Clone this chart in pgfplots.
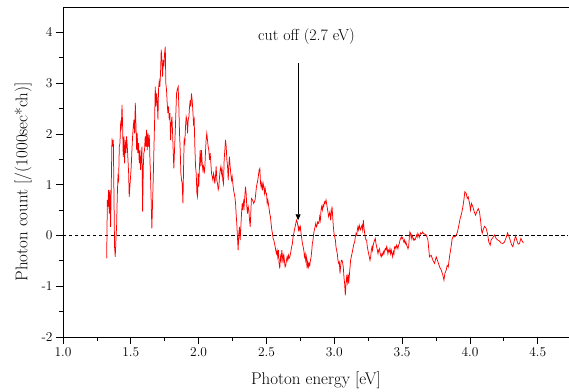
\documentclass[border=0pt]{standalone}
\usepackage{pgfplots}
\pgfplotsset{compat=1.18}
\usetikzlibrary{arrows.meta}
\begin{document}
\begin{tikzpicture}
\begin{axis}[
  at={(0,0)}, anchor=south west,
  scale only axis, width=506bp, height=330bp,
  xmin=1, xmax=4.73, ymin=-2, ymax=4.5,
  axis x line*=box, axis y line*=left,
  axis line style={-, line width=0.8pt, black},
  xtick={1,1.5,2,2.5,3,3.5,4,4.5},
  xticklabels={1.0,1.5,2.0,2.5,3.0,3.5,4.0,4.5},
  ytick={-2,-1,0,1,2,3,4},
  yticklabels={-2,-1,0,1,2,3,4},
  minor x tick num=1, minor y tick num=1,
  xtick pos=left, ytick pos=left,
  tick align=outside,
  major tick length=7bp, minor tick length=4bp,
  every tick/.style={black, line width=0.8pt},
  tick label style={font=\fontsize{13.5}{16}\selectfont, text=black},
  xlabel={Photon energy [eV]},
  ylabel={Photon count [/(1000sec*ch)]},
  label style={font=\fontsize{17}{20}\selectfont, text=black},
  xlabel style={at={(axis description cs:0.5,-0.145)}, anchor=base},
  ylabel style={at={(axis description cs:-0.079,0.47)}, anchor=center},
]
\addplot[black, line width=0.8pt, dash pattern=on 3.5bp off 2.5bp] coordinates {(1,0) (4.72,0)};
\addplot[red, line width=0.75pt] table {
x y
1.322 -0.45
1.327 0.70
1.331 0.57
1.336 0.90
1.341 0.43
1.346 0.90
1.351 0.17
1.356 1.02
1.361 1.91
1.366 1.75
1.371 1.88
1.376 0.70
1.380 -0.22
1.385 -0.42
1.390 -0.09
1.395 0.17
1.400 0.76
1.405 1.16
1.410 1.09
1.415 1.75
1.420 1.82
1.425 2.21
1.430 2.14
1.435 2.57
1.439 2.21
1.444 1.55
1.449 1.95
1.454 1.42
1.459 1.88
1.464 1.62
1.469 1.95
1.474 1.75
1.479 1.49
1.484 1.22
1.488 0.76
1.493 0.96
1.498 1.16
1.503 1.36
1.508 1.68
1.513 1.95
1.518 2.14
1.523 2.28
1.528 2.01
1.533 2.61
1.538 2.14
1.543 1.68
1.547 2.01
1.552 1.62
1.557 1.82
1.562 1.42
1.567 1.68
1.572 1.29
1.577 1.55
1.582 1.75
1.587 0.47
1.592 1.36
1.596 1.62
1.601 1.68
1.606 1.95
1.611 1.75
1.616 2.08
1.621 1.68
1.626 2.01
1.631 1.75
1.636 1.98
1.641 1.49
1.646 1.09
1.651 0.57
1.655 0.14
1.660 0.63
1.665 1.09
1.670 1.68
1.675 2.21
1.680 2.93
1.685 2.54
1.690 2.80
1.695 2.61
1.700 2.28
1.704 2.87
1.709 3.03
1.714 2.93
1.719 3.20
1.724 3.66
1.729 3.46
1.734 3.13
1.739 3.46
1.744 3.33
1.749 3.59
1.754 3.72
1.758 3.00
1.763 2.87
1.768 2.61
1.773 2.41
1.778 2.54
1.783 2.28
1.788 2.41
1.793 1.88
1.798 2.21
1.803 2.34
1.808 2.01
1.812 1.68
1.817 1.32
1.822 1.68
1.827 2.01
1.832 2.41
1.837 2.80
1.842 2.87
1.849 2.93
1.854 2.54
1.859 2.01
1.864 1.68
1.869 1.22
1.874 1.09
1.879 1.02
1.884 0.63
1.889 1.36
1.893 1.88
1.898 1.82
1.903 2.14
1.908 2.34
1.913 2.28
1.918 2.01
1.923 2.28
1.928 2.34
1.933 2.54
1.938 2.67
1.942 2.54
1.947 2.80
1.952 2.67
1.957 2.47
1.962 2.21
1.967 2.28
1.972 1.75
1.977 1.36
1.982 1.22
1.987 0.83
1.992 0.76
1.996 1.22
2.001 0.96
2.006 1.36
2.011 1.68
2.016 1.36
2.021 1.68
2.026 1.42
2.031 1.29
2.036 1.36
2.041 1.22
2.046 1.36
2.051 1.68
2.055 1.88
2.060 2.01
2.065 1.88
2.070 1.75
2.075 1.68
2.080 1.49
2.085 1.62
2.090 1.42
2.095 1.22
2.100 1.16
2.105 1.09
2.110 1.22
2.114 1.16
2.119 1.02
2.124 1.16
2.129 1.36
2.134 1.09
2.139 1.02
2.144 0.90
2.149 0.96
2.154 1.16
2.159 1.29
2.164 1.36
2.169 1.22
2.173 1.29
2.178 1.09
2.183 1.02
2.188 1.49
2.193 1.68
2.198 1.88
2.203 1.75
2.208 1.49
2.213 1.36
2.218 1.09
2.222 1.36
2.227 1.55
2.232 1.36
2.237 1.22
2.242 1.09
2.247 1.16
2.252 1.02
2.257 0.90
2.262 0.83
2.267 0.76
2.272 0.63
2.276 0.43
2.281 0.24
2.286 -0.03
2.291 -0.29
2.296 0.04
2.301 0.17
2.306 -0.09
2.311 0.17
2.316 0.43
2.321 0.63
2.326 0.50
2.330 0.66
2.335 0.57
2.340 0.76
2.345 0.96
2.350 0.83
2.355 0.57
2.360 0.43
2.365 0.57
2.370 0.50
2.375 0.30
2.380 0.17
2.389 0.73
2.397 0.70
2.406 0.63
2.416 0.70
2.426 0.96
2.436 1.09
2.446 1.29
2.451 1.32
2.456 1.03
2.460 0.96
2.465 1.03
2.470 0.89
2.475 1.03
2.480 0.96
2.485 0.83
2.490 0.93
2.495 0.83
2.500 0.83
2.505 0.63
2.510 0.70
2.514 0.63
2.519 0.53
2.524 0.43
2.529 0.37
2.534 0.24
2.539 0.11
2.544 0.04
2.549 -0.06
2.554 -0.09
2.559 -0.16
2.564 -0.22
2.568 -0.29
2.573 -0.36
2.578 -0.29
2.583 -0.42
2.588 -0.29
2.593 -0.55
2.598 -0.65
2.603 -0.42
2.608 -0.49
2.613 -0.29
2.618 -0.42
2.622 -0.55
2.627 -0.36
2.632 -0.49
2.637 -0.62
2.642 -0.59
2.647 -0.49
2.652 -0.42
2.657 -0.49
2.662 -0.39
2.667 -0.45
2.672 -0.42
2.677 -0.36
2.681 -0.29
2.686 -0.22
2.691 -0.16
2.696 -0.03
2.701 0.04
2.706 0.11
2.711 0.17
2.716 0.24
2.721 0.30
2.726 0.27
2.731 0.20
2.736 0.11
2.740 0.17
2.745 0.11
2.750 0.17
2.755 0.04
2.760 -0.06
2.765 -0.16
2.770 -0.22
2.775 -0.29
2.780 -0.42
2.785 -0.36
2.789 -0.49
2.794 -0.42
2.799 -0.65
2.804 -0.52
2.809 -0.62
2.814 -0.55
2.819 -0.59
2.824 -0.49
2.829 -0.42
2.834 -0.29
2.838 -0.16
2.843 -0.09
2.848 0.04
2.853 0.11
2.858 0.17
2.863 0.24
2.868 0.17
2.873 0.20
2.878 0.27
2.883 0.24
2.888 0.27
2.892 0.37
2.897 0.30
2.902 0.50
2.907 0.57
2.912 0.50
2.917 0.60
2.922 0.57
2.927 0.66
2.932 0.63
2.939 0.70
2.949 0.53
2.958 0.37
2.968 0.47
2.973 0.30
2.978 0.43
2.983 0.57
2.988 0.37
2.993 0.17
2.998 0.04
3.003 -0.03
3.008 -0.09
3.012 -0.22
3.017 -0.29
3.022 -0.36
3.027 -0.49
3.032 -0.55
3.037 -0.52
3.042 -0.75
3.047 -0.59
3.052 -0.49
3.057 -0.49
3.062 -0.55
3.066 -0.62
3.071 -0.82
3.076 -0.95
3.081 -1.18
3.086 -0.95
3.091 -0.82
3.096 -0.92
3.101 -0.75
3.106 -0.95
3.111 -0.78
3.116 -0.62
3.120 -0.49
3.125 -0.42
3.130 -0.36
3.135 -0.29
3.140 -0.22
3.145 -0.16
3.150 -0.13
3.155 -0.03
3.160 0.04
3.165 0.01
3.170 0.11
3.174 0.17
3.179 0.11
3.184 0.20
3.189 0.14
3.194 0.11
3.199 0.17
3.204 0.20
3.209 0.11
3.214 0.30
3.219 0.14
3.224 0.04
3.228 -0.03
3.233 -0.09
3.238 -0.09
3.243 -0.22
3.248 -0.29
3.253 -0.36
3.258 -0.42
3.263 -0.49
3.268 -0.42
3.273 -0.29
3.278 -0.22
3.282 -0.29
3.287 -0.19
3.292 -0.13
3.297 -0.09
3.302 -0.06
3.307 -0.16
3.312 -0.22
3.317 -0.29
3.322 -0.36
3.327 -0.29
3.332 -0.26
3.336 -0.32
3.341 -0.39
3.346 -0.42
3.351 -0.36
3.356 -0.39
3.361 -0.32
3.366 -0.36
3.371 -0.29
3.376 -0.26
3.381 -0.29
3.386 -0.22
3.390 -0.26
3.395 -0.36
3.400 -0.29
3.405 -0.32
3.410 -0.26
3.415 -0.36
3.420 -0.29
3.425 -0.36
3.430 -0.42
3.435 -0.32
3.440 -0.36
3.444 -0.22
3.449 -0.22
3.454 -0.26
3.459 -0.19
3.464 -0.22
3.469 -0.26
3.474 -0.19
3.479 -0.16
3.484 -0.09
3.489 -0.06
3.494 -0.03
3.498 -0.06
3.503 -0.04
3.508 -0.09
3.513 -0.13
3.518 -0.09
3.523 -0.16
3.528 -0.13
3.533 -0.19
3.538 -0.22
3.543 -0.26
3.548 -0.22
3.553 -0.03
3.557 0.07
3.562 0.04
3.567 -0.06
3.572 0.01
3.577 -0.03
3.582 -0.09
3.587 -0.06
3.592 -0.09
3.597 -0.08
3.602 -0.03
3.607 0.01
3.611 -0.03
3.616 0.04
3.621 0.01
3.626 -0.04
3.631 0.01
3.636 0.05
3.641 0.03
3.646 0.04
3.651 0.07
3.656 0.04
3.678 0.01
3.690 -0.09
3.697 -0.29
3.702 -0.42
3.714 -0.39
3.727 -0.49
3.739 -0.55
3.751 -0.42
3.764 -0.52
3.776 -0.62
3.788 -0.68
3.800 -0.78
3.808 -0.88
3.815 -0.75
3.825 -0.68
3.832 -0.59
3.840 -0.62
3.849 -0.42
3.857 -0.29
3.864 -0.16
3.869 -0.06
3.879 -0.01
3.889 -0.03
3.899 0.01
3.908 0.07
3.918 0.20
3.928 0.34
3.938 0.43
3.948 0.57
3.955 0.70
3.962 0.86
3.972 0.83
3.980 0.73
3.987 0.76
3.997 0.63
4.004 0.50
4.011 0.63
4.021 0.57
4.031 0.47
4.041 0.40
4.051 0.47
4.061 0.53
4.070 0.47
4.078 0.30
4.085 0.11
4.090 0.04
4.097 0.11
4.107 0.18
4.119 0.14
4.129 0.04
4.139 -0.13
4.149 -0.19
4.156 -0.09
4.169 -0.04
4.181 0.01
4.193 -0.06
4.205 -0.09
4.218 -0.11
4.230 -0.15
4.242 -0.16
4.254 -0.13
4.267 -0.04
4.277 0.05
4.286 -0.01
4.296 -0.09
4.306 -0.18
4.316 -0.22
4.326 -0.11
4.336 -0.01
4.345 -0.09
4.355 -0.17
4.365 -0.16
4.375 -0.06
4.385 -0.11
4.394 -0.15
};
\draw[black, line width=0.8pt, -{Triangle[width=5pt,length=6pt]}] (axis cs:2.733,3.39) -- (axis cs:2.733,0.30);
\node[font=\fontsize{16}{19}\selectfont, text=black] at (axis cs:2.795,3.92) {cut off (2.7 eV)};
\end{axis}
\pgfresetboundingbox
\useasboundingbox (-63bp,-55bp) rectangle (506bp,337bp);
\end{tikzpicture}
\end{document}
